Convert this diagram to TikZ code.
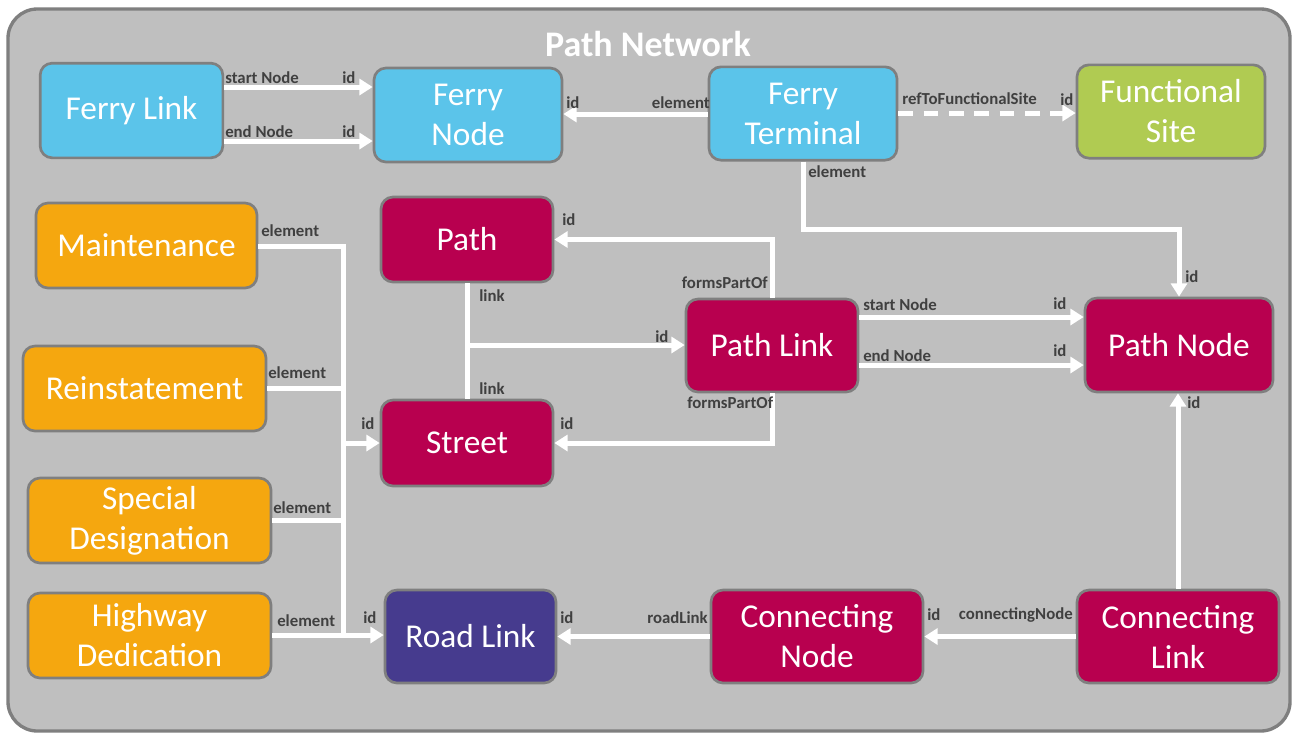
\documentclass[tikz,border=0pt]{standalone}
\usepackage{fontspec}
\setmainfont{Carlito}
\usetikzlibrary{arrows.meta}
\definecolor{bggray}{HTML}{BFBFBF}
\definecolor{bordergray}{HTML}{7F7F7F}
\definecolor{ferryblue}{HTML}{5BC4EA}
\definecolor{sitegreen}{HTML}{B0CB52}
\definecolor{elemorange}{HTML}{F5A70F}
\definecolor{pathred}{HTML}{B8004F}
\definecolor{roadpurple}{HTML}{463B8E}
\definecolor{lblgray}{HTML}{404040}
\tikzset{
  box/.style={draw=bordergray, line width=2pt, rounded corners=9pt, text=white,
    font=\fontsize{25}{30}\selectfont, align=center, inner sep=0pt},
  wline/.style={draw=white, line width=3.75pt},
  conn/.style={wline, -{Triangle[length=10pt,width=12pt]}},
  lbl/.style={font=\bfseries\fontsize{12.6}{14}\selectfont, text=lblgray, inner sep=0pt},
}
\begin{document}
\begin{tikzpicture}[x=0.75pt,y=-0.75pt]
\useasboundingbox (0,0) rectangle (1292,733);
\fill[white] (0,0) rectangle (1292,733);
\draw[draw=bordergray, fill=bggray, line width=2.5pt, rounded corners=22pt] (8,9) rectangle (1290,731);
\node[font=\bfseries\fontsize{27}{30}\selectfont, text=white, inner sep=0pt] (title) at (648,44) {Path Network};

% nodes
\node[box, fill=ferryblue, minimum width=137pt, minimum height=71pt] (fl) at (131.5,110.5) {\raisebox{-1pt}{Ferry Link}};
\node[box, fill=ferryblue, minimum width=141pt, minimum height=70.5pt] (fn) at (468,115) {Ferry\\Node};
\node[box, fill=ferryblue, minimum width=141pt, minimum height=70pt] (ft) at (803,113.5) {Ferry\\Terminal};
\node[box, fill=sitegreen, minimum width=141pt, minimum height=70pt] (fs) at (1171,111.5) {Functional\\Site};
\node[box, fill=elemorange, minimum width=165.75pt, minimum height=63.75pt] (mt) at (146.5,245.5) {Maintenance};
\node[box, fill=elemorange, minimum width=182.25pt, minimum height=63.75pt] (rs) at (144.5,388.5) {Reinstatement};
\node[box, fill=elemorange, minimum width=182.25pt, minimum height=63.75pt] (sd) at (149.5,520.5) {Special\\Designation};
\node[box, fill=elemorange, minimum width=182.25pt, minimum height=63.75pt] (hd) at (149.5,635.5) {Highway\\Dedication};
\node[box, fill=pathred, minimum width=129pt, minimum height=63.75pt] (pa) at (467,239.5) {Path};
\node[box, fill=pathred, minimum width=129pt, minimum height=64.5pt] (st) at (467,443) {Street};
\node[box, fill=pathred, minimum width=129pt, minimum height=69.75pt] (pl) at (772,345.5) {Path Link};
\node[box, fill=pathred, minimum width=141pt, minimum height=70.5pt] (pn) at (1179,345) {Path Node};
\node[box, fill=roadpurple, minimum width=128.25pt, minimum height=69.75pt] (rl) at (470.5,636.5) {Road Link};
\node[box, fill=pathred, minimum width=159pt, minimum height=69.75pt] (cn) at (817,636.5) {Connecting\\Node};
\node[box, fill=pathred, minimum width=151.5pt, minimum height=69.75pt] (cl) at (1178,636.5) {Connecting\\Link};

% ferry connectors
\draw[conn] (fl.east |- 0,87) -- (fn.west |- 0,87);
\draw[conn] (fl.east |- 0,141) -- (fn.west |- 0,141);
\draw[conn] (ft.west |- 0,114) -- (fn.east |- 0,114);
\draw[conn, dash pattern=on 11pt off 8pt] (ft.east |- 0,113) -- (fs.west |- 0,113);
\draw[conn] (ft.south) -- (ft.south |- 0,229) -- (pn.north |- 0,229) -- (pn.north);

% element bus
\coordinate (bA) at (343,246);
\coordinate (bB) at (343,388);
\coordinate (bS) at (343,443);
\coordinate (bC) at (343,520);
\coordinate (bD) at (343,635);
\draw[wline] (mt.east |- bA) -- (bA) -- (bD);
\draw[wline] (rs.east |- bB) -- (bB);
\draw[wline] (sd.east |- bC) -- (bC);
\draw[conn] (bS) -- (st.west |- bS);
\draw[conn] (hd.east |- bD) -- (rl.west |- bD);

% path / street / path link
\coordinate (pj) at (467,345);
\draw[wline] (pa.south) -- (st.north);
\draw[conn] (pj) -- (pl.west |- pj);
\draw[conn] (pl.north) -- (pl.north |- pa.east) -- (pa.east);
\draw[conn] (pl.south) -- (pl.south |- st.east) -- (st.east);
\draw[conn] (pl.east |- 0,317) -- (pn.west |- 0,317);
\draw[conn] (pl.east |- 0,365) -- (pn.west |- 0,365);

% connecting
\draw[conn] (cl.north) -- (cl.north |- pn.south);
\draw[conn] (cl.west) -- (cn.east);
\draw[conn] (cn.west) -- (rl.east);

% labels
\node[lbl, anchor=west] (l1) at (225,78) {start Node};
\node[lbl, anchor=west] (l2) at (342,78) {id};
\node[lbl, anchor=west] (l3) at (225,132) {end Node};
\node[lbl, anchor=west] (l4) at (342,132) {id};
\node[lbl, anchor=east] (l5) at (710,103) {element};
\node[lbl, anchor=west] (l6) at (566,103) {id};
\node[lbl, anchor=west] (l7) at (902,99) {refToFunctionalSite};
\node[lbl, anchor=west] (l8) at (1060,100) {id};
\node[lbl, anchor=west] (l9) at (808,172) {element};
\node[lbl, anchor=west] (l10) at (1185,277) {id};
\node[lbl, anchor=west] (l11) at (261,231) {element};
\node[lbl, anchor=west] (l12) at (268,373) {element};
\node[lbl, anchor=west] (l13) at (273,508) {element};
\node[lbl, anchor=west] (l14) at (277,621) {element};
\node[lbl, anchor=west] (l15) at (361,424) {id};
\node[lbl, anchor=west] (l16) at (363,618) {id};
\node[lbl, anchor=west] (l17) at (479,296) {link};
\node[lbl, anchor=west] (l18) at (479,389) {link};
\node[lbl, anchor=west] (l19) at (655,337) {id};
\node[lbl, anchor=west] (l20) at (562,220) {id};
\node[lbl, anchor=west] (l21) at (560,424) {id};
\node[lbl, anchor=east] (l22) at (768,283) {formsPartOf};
\node[lbl, anchor=west] (l23) at (687,403) {formsPartOf};
\node[lbl, anchor=west] (l24) at (863,305) {start Node};
\node[lbl, anchor=west] (l25) at (1053,304) {id};
\node[lbl, anchor=west] (l26) at (863,356) {end Node};
\node[lbl, anchor=west] (l27) at (1053,351) {id};
\node[lbl, anchor=west] (l28) at (1187,403) {id};
\node[lbl, anchor=east] (l29) at (1073,615) {connectingNode};
\node[lbl, anchor=west] (l30) at (927,615) {id};
\node[lbl, anchor=east] (l31) at (708,618) {roadLink};
\node[lbl, anchor=west] (l32) at (560,618) {id};
\end{tikzpicture}
\end{document}
